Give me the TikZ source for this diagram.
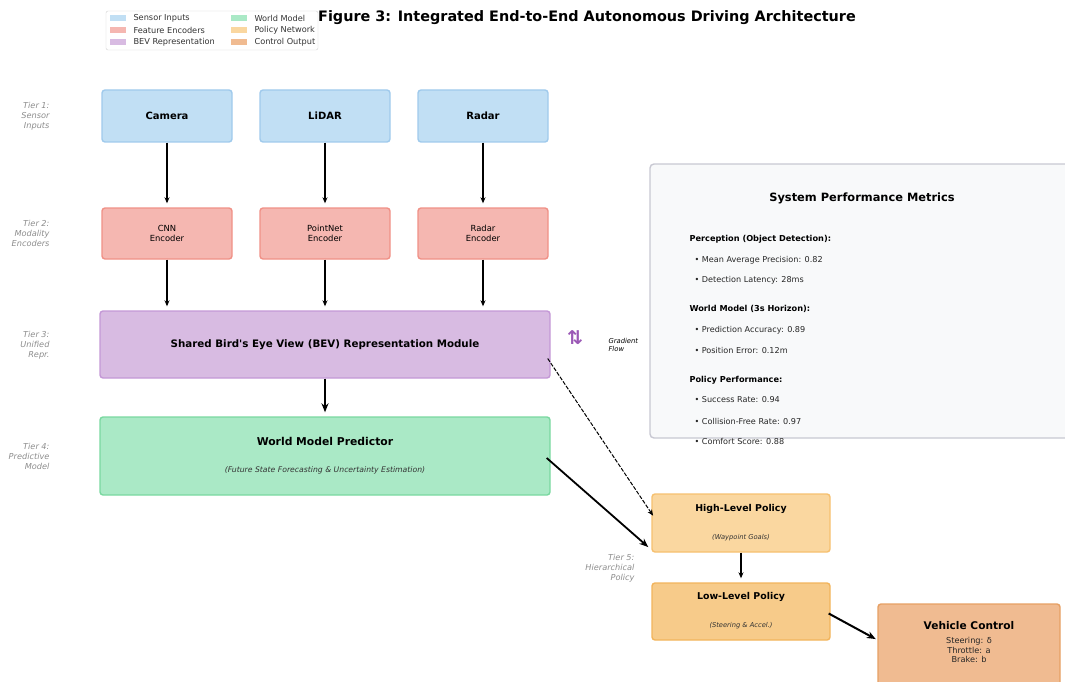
\documentclass[tikz,border=0pt]{standalone}
\usepackage{fontspec}
\setmainfont{DejaVu Sans}
\usetikzlibrary{arrows.meta, calc}

% Tier colours
\definecolor{sensfill}{RGB}{193,223,244}
\definecolor{sensdraw}{RGB}{160,202,236}
\definecolor{encfill}{RGB}{245,183,177}
\definecolor{encdraw}{RGB}{240,145,135}
\definecolor{bevfill}{RGB}{216,187,226}
\definecolor{bevdraw}{RGB}{196,152,214}
\definecolor{wmfill}{RGB}{170,233,198}
\definecolor{wmdraw}{RGB}{122,216,160}
\definecolor{hlpfill}{RGB}{250,215,160}
\definecolor{hlpdraw}{RGB}{246,192,112}
\definecolor{llpfill}{RGB}{247,203,138}
\definecolor{llpdraw}{RGB}{242,180,92}
\definecolor{vehfill}{RGB}{240,187,145}
\definecolor{vehdraw}{RGB}{230,160,100}
\definecolor{panelfill}{RGB}{248,249,250}
\definecolor{paneldraw}{RGB}{200,200,210}
\definecolor{gradcol}{RGB}{155,89,182}

\tikzset{
  box/.style={draw, rounded corners=3pt, line width=1.4pt, inner sep=0pt},
  sensor/.style={box, fill=sensfill, draw=sensdraw, minimum width=130pt, minimum height=52pt,
    font=\fontsize{10}{12}\selectfont\bfseries},
  encoder/.style={box, fill=encfill, draw=encdraw, minimum width=130pt, minimum height=51pt,
    align=center, font=\fontsize{8.4}{10}\selectfont},
  tier/.style={anchor=east, align=right, text=gray!90, font=\fontsize{8.2}{10}\selectfont\itshape},
  ttl/.style={font=\fontsize{10.3}{12}\selectfont\bfseries},
  sub/.style={font=\fontsize{7.7}{9}\selectfont\itshape, text=black!80},
  head/.style={anchor=west, font=\fontsize{8.2}{10}\selectfont\bfseries},
  item/.style={anchor=west, font=\fontsize{8.1}{10}\selectfont, text=black!85},
  legtxt/.style={anchor=west, font=\fontsize{8.2}{10}\selectfont, text=black!80},
  flow/.style={-{Stealth[length=6pt, width=5pt]}, line width=1.1pt, shorten >=4pt},
  bigflow/.style={-{Stealth[length=9pt, width=7pt]}, line width=1.8pt, shorten >=4pt},
}

\begin{document}
\begin{tikzpicture}[x=1pt, y=-1pt]

    % Page frame
    \useasboundingbox (0,0) rectangle (1065,682);
    \clip (0,0) rectangle (1065,682);

    % Title
    \node[font=\fontsize{14.4}{16}\selectfont\bfseries] (title) at (587,18) {Figure 3: Integrated End-to-End Autonomous Driving Architecture};

    % Legend
    \draw[gray!35, fill=white, rounded corners=2pt] (106,11) rectangle (318,50);
    \foreach \col/\txt/\x/\y in {sensfill/Sensor Inputs/110/18, encfill/Feature Encoders/110/30,
        bevfill/BEV Representation/110/42, wmfill/World Model/231/18,
        hlpfill/Policy Network/231/30, vehfill/Control Output/231/42}{
      \fill[\col] (\x,\y-3) rectangle (\x+16,\y+3);
      \node[legtxt] at (\x+20,\y) {\txt};
    }

    % Tier 1: sensors
    \node[sensor] (cam)   at (167,116) {Camera};
    \node[sensor] (lidar) at (325,116) {LiDAR};
    \node[sensor] (radar) at (483,116) {Radar};

    % Tier 2: encoders
    \node[encoder] (cnn)  at (167,233.5) {CNN\\Encoder};
    \node[encoder] (pnet) at (325,233.5) {PointNet\\Encoder};
    \node[encoder] (renc) at (483,233.5) {Radar\\Encoder};

    % Tier 3: BEV
    \node[box, fill=bevfill, draw=bevdraw, minimum width=450pt, minimum height=67pt, ttl] (bev) at (325,344.5)
      {Shared Bird\textquotesingle s Eye View (BEV) Representation Module};

    % Tier 4: world model
    \node[box, fill=wmfill, draw=wmdraw, minimum width=450pt, minimum height=78pt] (wm) at (325,456) {};
    \node[ttl, font=\fontsize{10.8}{12}\selectfont\bfseries] (wmttl) at (325,441) {World Model Predictor};
    \node[sub] (wmsub) at (325,470) {(Future State Forecasting \& Uncertainty Estimation)};

    % Metrics panel
    \node[draw=paneldraw, fill=panelfill, rounded corners=4pt, line width=1.4pt,
      minimum width=440pt, minimum height=274pt] (panel) at (870,301) {};
    \node[font=\fontsize{11.4}{13}\selectfont\bfseries] (pttl) at (862,198) {System Performance Metrics};
    \node[head] at (686,239) {Perception (Object Detection):};
    \node[item] at (691,260) {• Mean Average Precision: 0.82};
    \node[item] at (691,280) {• Detection Latency: 28ms};
    \node[head] at (686,309) {World Model (3s Horizon):};
    \node[item] at (691,330) {• Prediction Accuracy: 0.89};
    \node[item] at (691,350) {• Position Error: 0.12m};
    \node[head] at (686,380) {Policy Performance:};
    \node[item] at (691,400) {• Success Rate: 0.94};
    \node[item] at (691,421) {• Collision-Free Rate: 0.97};
    \node[item] at (691,441) {• Comfort Score: 0.88};

    % Tier 5: policies
    \node[box, fill=hlpfill, draw=hlpdraw, minimum width=178pt, minimum height=58pt] (hlp) at (741,523) {};
    \node[ttl, font=\fontsize{9.4}{11}\selectfont\bfseries] at (741,509) {High-Level Policy};
    \node[sub, font=\fontsize{6.7}{8}\selectfont\itshape] at (741,538) {(Waypoint Goals)};
    \node[box, fill=llpfill, draw=llpdraw, minimum width=178pt, minimum height=57pt] (llp) at (741,611.5) {};
    \node[ttl, font=\fontsize{9.4}{11}\selectfont\bfseries] at (741,597) {Low-Level Policy};
    \node[sub, font=\fontsize{6.7}{8}\selectfont\itshape] at (741,626) {(Steering \& Accel.)};

    % Control output
    \node[box, fill=vehfill, draw=vehdraw, minimum width=182pt, minimum height=92pt] (veh) at (969,650) {};
    \node[ttl, font=\fontsize{10.6}{12}\selectfont\bfseries] at (969,626) {Vehicle Control};
    \node[align=center, font=\fontsize{8.2}{9.5}\selectfont, text=black!85] (vehtxt) at (969,650)
      {Steering: δ\\Throttle: a\\Brake: b};

    % Gradient flow marker
    \node[text=gradcol, font=\fontsize{19}{19}\selectfont\bfseries] (grad) at (575,338) {⇅};
    \node[anchor=west, align=left, font=\fontsize{6.8}{8}\selectfont\itshape] (gradtxt) at (605,345) {Gradient\\Flow};

    % Tier labels
    \node[tier] (t1) at (53,116) {Tier 1:\\Sensor\\Inputs};
    \node[tier] (t2) at (53,233.5) {Tier 2:\\Modality\\Encoders};
    \node[tier] (t3) at (53,345) {Tier 3:\\Unified\\Repr.};
    \node[tier] (t4) at (53,456) {Tier 4:\\Predictive\\Model};
    \node[tier] (t5) at (638,568) {Tier 5:\\Hierarchical\\Policy};

    % Connections
    \foreach \a/\b in {cam/cnn, lidar/pnet, radar/renc}
      \draw[flow] (\a.south) -- (\b.north);
    \foreach \a in {cnn, pnet, renc}
      \draw[flow] (\a.south) -- (\a.south |- bev.north);
    \draw[bigflow] (bev.south) -- (wm.north);
    \draw[bigflow] ($(wm.east)+(-4,2)$) -- ($(hlp.south west)+(0,-3)$);
    \draw[flow, dash pattern=on 4pt off 1.5pt, line width=1pt] ($(bev.east)+(-3,14)$) -- ($(hlp.west)+(4,-4)$);
    \draw[flow] (hlp.south) -- (llp.north);
    \draw[bigflow, line width=2pt] ($(llp.east)+(-2,2)$) -- ($(veh.west)+(2,-9)$);

\end{tikzpicture}
\end{document}
